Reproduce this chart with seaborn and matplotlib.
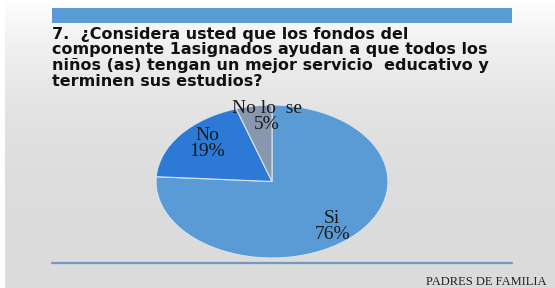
import numpy as np
import matplotlib
matplotlib.use("Agg")
import matplotlib.pyplot as plt
import seaborn as sns

# data
categories = ["Si", "No", "No lo  se"]
percent = [76, 19, 5]
colors = ["#5B9BD5", "#2C7AD6", "#8797AE"]
title = ("7.  ¿Considera usted que los fondos del\n"
         "componente 1asignados ayudan a que todos los\n"
         "niños (as) tengan un mejor servicio  educativo y\n"
         "terminen sus estudios?")
footer = "PADRES DE FAMILIA"

sns.set_style("white")

W, H = 555, 288
fig = plt.figure(figsize=(W / 100, H / 100), dpi=100)

# background gradient (white at top -> light gray at bottom)
bg = fig.add_axes([0, 0, 1, 1])
grad = np.linspace(1.0, 0.0, 256)[:, None]
shade = 0.86 + 0.14 * grad ** 3
img = np.dstack([shade, shade, shade]) * np.ones((256, W, 3))
img[:, :5, :] = 1.0
bg.imshow(img, aspect="auto", extent=[0, W, H, 0], interpolation="bilinear")
bg.set_xlim(0, W)
bg.set_ylim(H, 0)
bg.axis("off")

# top blue band and bottom rule
bg.add_patch(plt.Rectangle((52, 8), 460, 15, color="#5B9BD5", lw=0))
bg.plot([52, 512], [263, 263], color="#6E9AC4", lw=1.6)

bg.text(52, 26.5, title, ha="left", va="top", fontsize=11.5,
        fontweight="bold", family="DejaVu Sans",
        color="#111111", linespacing=1.07)
bg.text(547, 282, footer, ha="right", va="center", fontsize=9,
        family="Liberation Serif", color="#222222")

# pie (stretched into an ellipse)
ax = fig.add_axes([156 / W, (H - 258) / H, 232 / W, 153 / H])
wedges, _ = ax.pie(percent, colors=colors, startangle=90, counterclock=False,
                   wedgeprops=dict(edgecolor="#d9e4f0", linewidth=0.8))
ax.set_aspect("auto")
ax.set_xlim(-1, 1)
ax.set_ylim(-1, 1)
ax.axis("off")

label_r = [0.79, 0.75, 0.85]
angle_shift = [-2, -4, -6]
cum = np.cumsum(percent) - np.array(percent) / 2
for cat, p, c, r, s in zip(categories, percent, cum, label_r, angle_shift):
    ang = np.deg2rad(90 - 360 * c / sum(percent) + s)
    ax.text(r * np.cos(ang), r * np.sin(ang), f"{cat}\n{p}%",
            ha="center", va="center", fontsize=14, family="Liberation Serif",
            color="#1a1a1a", linespacing=0.92)

fig.savefig("out.png", dpi=100)
